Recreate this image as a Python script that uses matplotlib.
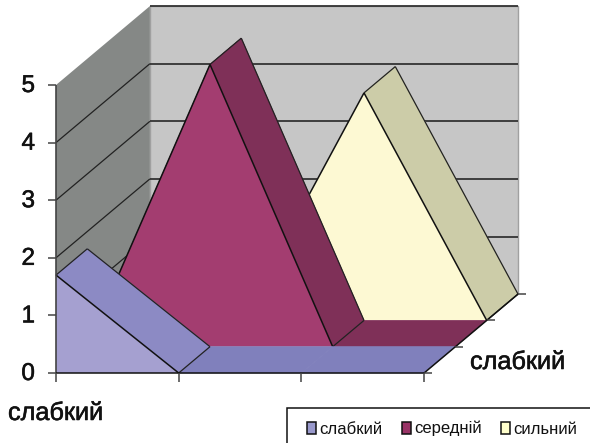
import matplotlib
matplotlib.use("Agg")
import matplotlib.patheffects as pe
import matplotlib.pyplot as plt
from matplotlib.patches import Patch, Polygon, Rectangle

plt.rcParams["font.family"] = ["Liberation Sans", "DejaVu Sans"]

# Data
series_names = ["слабкий", "середній", "сильний"]
weak_values = [1.7, 0.0, 0.0, 0.0]
medium_values = [0.0, 4.9, 0.0, 0.0]
strong_values = [0.0, 0.0, 3.95, 0.0]
value_ticks = [0, 1, 2, 3, 4, 5]
x_axis_label = "слабкий"
depth_axis_label = "слабкий"

# Colours per series: front face, sloped side, flat floor
front_colors = ["#a5a0d0", "#a33d70", "#fdf9d3"]
side_colors = ["#8c8ac4", "#7f3058", "#cccca8"]
floor_colors = ["#8080bc", "#7f3058", "#cccca8"]
legend_colors = ["#9999cc", "#993366", "#ffffcc"]

# Projection of the chart space to image pixels
X0, Y0 = 56.0, 373.0
X_STEP = 122.7
Y_STEP = 57.6
DEPTH_DX = 31.3
DEPTH_DY = -26.3

HEAVY = [pe.withStroke(linewidth=0.4, foreground="#111111")]


def project(cat, value, depth=0.0):
  """ Chart coordinates (category, value, depth) -> image pixels.
  """
  return (X0 + cat*X_STEP + depth*DEPTH_DX, Y0 - value*Y_STEP + depth*DEPTH_DY)


def line(ax, p0, p1, color="#111111", lw=1.1, zorder=5):
  ax.plot([p0[0], p1[0]], [p0[1], p1[1]], color=color, lw=lw, zorder=zorder,
          solid_capstyle="butt")


def draw_walls(ax, n_cat, n_depth, v_max):
  x_max = n_cat - 1
  back = [project(0, 0, n_depth), project(x_max, 0, n_depth),
          project(x_max, v_max, n_depth), project(0, v_max, n_depth)]
  side = [project(0, 0, 0), project(0, 0, n_depth),
          project(0, v_max, n_depth), project(0, v_max, 0)]
  ax.add_patch(Polygon(back, fc="#c6c6c6", ec="#a0a0a0", lw=1.0, zorder=1))
  ax.add_patch(Polygon(side, fc="#858886", ec="none", zorder=1))
  for v in value_ticks:
    if v == 0:
      continue
    if v < v_max:
      line(ax, project(0, v, 0), project(0, v, n_depth), color="#222222", lw=0.9, zorder=2)
    line(ax, project(0, v, n_depth), project(x_max, v, n_depth), color="#333333", lw=1.3, zorder=2)


def draw_series(ax, values, depth, i_series):
  n = len(values)
  z_base = 3 + 0.1*(3 - depth)
  # Faces running into the depth first, the front face hides the rising ones
  for i in range(n - 1):
    quad = [project(i, values[i], depth), project(i + 1, values[i + 1], depth),
            project(i + 1, values[i + 1], depth + 1), project(i, values[i], depth + 1)]
    flat = values[i] == values[i + 1]
    color = floor_colors[i_series] if flat else side_colors[i_series]
    ax.add_patch(Polygon(quad, fc=color, ec=color, lw=0.5, zorder=z_base))
    if not flat and values[i] > values[i + 1]:
      line(ax, quad[3], quad[2], color="#222222", lw=0.9, zorder=z_base + 0.05)
      line(ax, quad[0], quad[3], color="#222222", lw=0.9, zorder=z_base + 0.05)

  front = [project(0, 0, depth)]
  front += [project(i, values[i], depth) for i in range(n)]
  front += [project(n - 1, 0, depth)]
  z_front = z_base + 0.06
  ax.add_patch(Polygon(front, fc=front_colors[i_series], ec="none", zorder=z_front))

  # Outline the sloped edges and the edge down to the floor
  for i in range(n - 1):
    if values[i] != values[i + 1]:
      line(ax, project(i, values[i], depth), project(i + 1, values[i + 1], depth), zorder=z_front + 0.01)
  for i in range(n):
    if values[i] == 0 and (i > 0 and values[i - 1] > 0):
      line(ax, project(i, 0, depth), project(i, 0, depth + 1), color="#222222", lw=0.9, zorder=z_front + 0.01)


def draw_axes(ax, n_cat, n_depth, v_max):
  x_max = n_cat - 1
  line(ax, project(0, 0), project(0, v_max), color="#444444", lw=1.2, zorder=6)
  line(ax, project(0, 0), project(x_max, 0), zorder=6)
  line(ax, project(x_max, 0), project(x_max, 0, n_depth), zorder=6)
  for v in value_ticks:
    x, y = project(0, v)
    line(ax, (x - 8, y), (x, y), color="#444444", zorder=6)
    ax.text(x - 21, y + 1, str(v), ha="right", va="center", fontsize=17.5, zorder=7,
            color="#111111", path_effects=HEAVY)
  for i in range(n_cat):
    x, y = project(i, 0)
    line(ax, (x, y), (x, y + 9), color="#444444", zorder=6)
  for d in range(n_depth + 1):
    x, y = project(x_max, 0, d)
    line(ax, (x, y), (x + 8, y), color="#444444", zorder=6)


def main():
  fig = plt.figure(figsize=(5.9, 4.43), dpi=100)
  ax = fig.add_axes([0, 0, 1, 1])
  ax.set_xlim(0, 590)
  ax.set_ylim(443, 0)
  ax.axis("off")

  all_values = [weak_values, medium_values, strong_values]
  n_cat = len(weak_values)
  n_depth = len(all_values)
  v_max = max(value_ticks)

  draw_walls(ax, n_cat, n_depth, v_max)
  for d in reversed(range(n_depth)):
    draw_series(ax, all_values[d], d, d)
  draw_axes(ax, n_cat, n_depth, v_max)

  ax.text(8, 413, x_axis_label, ha="left", va="center", fontsize=18.2, color="#111111", path_effects=HEAVY)
  ax.text(470, 362, depth_axis_label, ha="left", va="center", fontsize=18.2, color="#111111", path_effects=HEAVY)

  # Legend box runs off the bottom right corner of the image
  ax.add_patch(Rectangle((287, 408), 320, 60, fc="white", ec="#111111", lw=1.1, zorder=8))
  handles = [Patch(fc=legend_colors[i], ec="#111111", lw=1.1) for i in range(n_depth)]
  leg = ax.legend(handles, series_names, ncol=3, loc="upper left",
                  bbox_to_anchor=(307/590, 1 - 421/443), bbox_transform=ax.transAxes,
                  fontsize=12, frameon=False, borderaxespad=0, borderpad=0,
                  handlelength=0.55, handleheight=0.7, handletextpad=0.2, columnspacing=1.15,
                  labelcolor="#111111")
  leg.set_zorder(9)

  fig.savefig("out.png", dpi=100)
  plt.close(fig)


if __name__ == "__main__":
  main()
